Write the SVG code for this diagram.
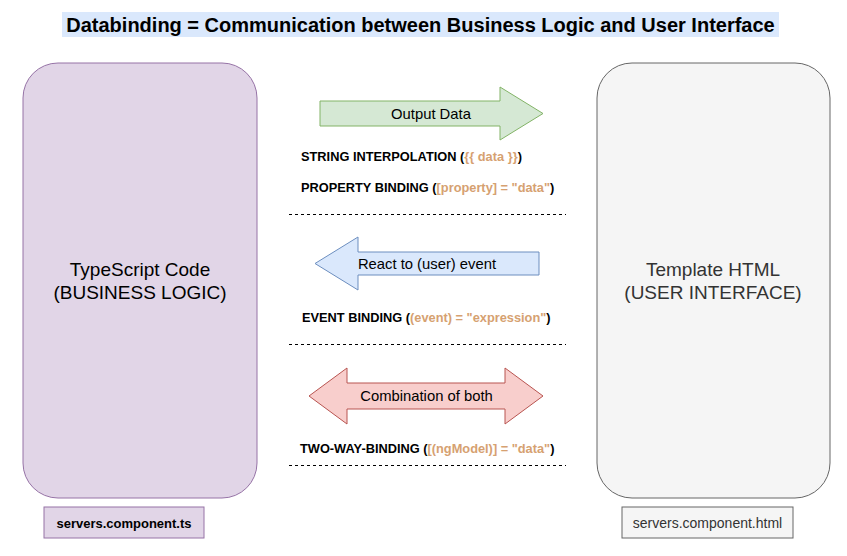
<svg xmlns="http://www.w3.org/2000/svg" width="847" height="556" viewBox="0 0 847 556">
<style>
text{font-family:"Liberation Sans",Arial,sans-serif;fill:#000}
.lbl{font-size:12.8px;font-weight:bold}
.o{fill:#d6a171}
.big{font-size:19px;text-anchor:middle}
.al{font-size:14.8px;text-anchor:middle}
.dash{stroke:#000;stroke-width:1;stroke-dasharray:3 3;fill:none}
</style>
<rect width="847" height="556" fill="#fff"/>
<g id="title">
<rect x="62" y="12" width="717" height="25" fill="#dae8fc"/>
<text x="420.5" y="31.5" style="font-size:20px;font-weight:bold;text-anchor:middle">Databinding = Communication between Business Logic and User Interface</text>
</g>
<g id="ts-code">
<rect x="23" y="63" width="234" height="435" rx="35" ry="35" fill="#e1d5e7" stroke="#9673a6"/>
<text class="big" x="140" y="276">TypeScript Code</text>
<text class="big" x="140" y="299">(BUSINESS LOGIC)</text>
</g>
<g id="template-html">
<rect x="597" y="63" width="233" height="435" rx="35" ry="35" fill="#f5f5f5" stroke="#666"/>
<text class="big" x="713" y="276" style="fill:#333">Template HTML</text>
<text class="big" x="713" y="299" style="fill:#333">(USER INTERFACE)</text>
</g>
<g id="ts-file">
<rect x="44" y="507" width="160" height="31" fill="#e1d5e7" stroke="#9673a6"/>
<text x="124" y="527.5" style="font-size:13px;font-weight:bold;text-anchor:middle">servers.component.ts</text>
</g>
<g id="html-file">
<rect x="622" y="507" width="171" height="31" fill="#f5f5f5" stroke="#666"/>
<text x="707.5" y="527.5" style="font-size:14px;text-anchor:middle;fill:#333">servers.component.html</text>
</g>
<g id="output-arrow">
<path d="M320 101 H500 V87 L543 113.5 L500 140 V126 H320 Z" fill="#d5e8d4" stroke="#82b366"/>
<text class="al" x="431" y="118.5">Output Data</text>
</g>
<g id="event-arrow">
<path d="M539 252 H358 V237 L315 263.5 L358 290 V275 H539 Z" fill="#dae8fc" stroke="#6c8ebf"/>
<text class="al" x="427" y="269">React to (user) event</text>
</g>
<g id="both-arrow">
<path d="M309 396 L347 368 V383 H505 V368 L543 396 L505 424 V409 H347 V424 Z" fill="#f8cecc" stroke="#b85450"/>
<text class="al" x="426.5" y="401">Combination of both</text>
</g>
<g id="labels">
<text class="lbl" x="301" y="160.5">STRING INTERPOLATION (<tspan class="o">{{ data }}</tspan>)</text>
<text class="lbl" x="301" y="192">PROPERTY BINDING (<tspan class="o">[property] = "data"</tspan>)</text>
<text class="lbl" x="302" y="322">EVENT BINDING (<tspan class="o">(event) = "expression"</tspan>)</text>
<text class="lbl" x="300" y="453">TWO-WAY-BINDING (<tspan class="o">[(ngModel)] = "data"</tspan>)</text>
</g>
<g id="connectors">
<line class="dash" x1="289" y1="214.5" x2="566" y2="214.5"/>
<line class="dash" x1="289" y1="344.5" x2="566" y2="344.5"/>
<line class="dash" x1="289" y1="465.5" x2="566" y2="465.5"/>
</g>
</svg>
